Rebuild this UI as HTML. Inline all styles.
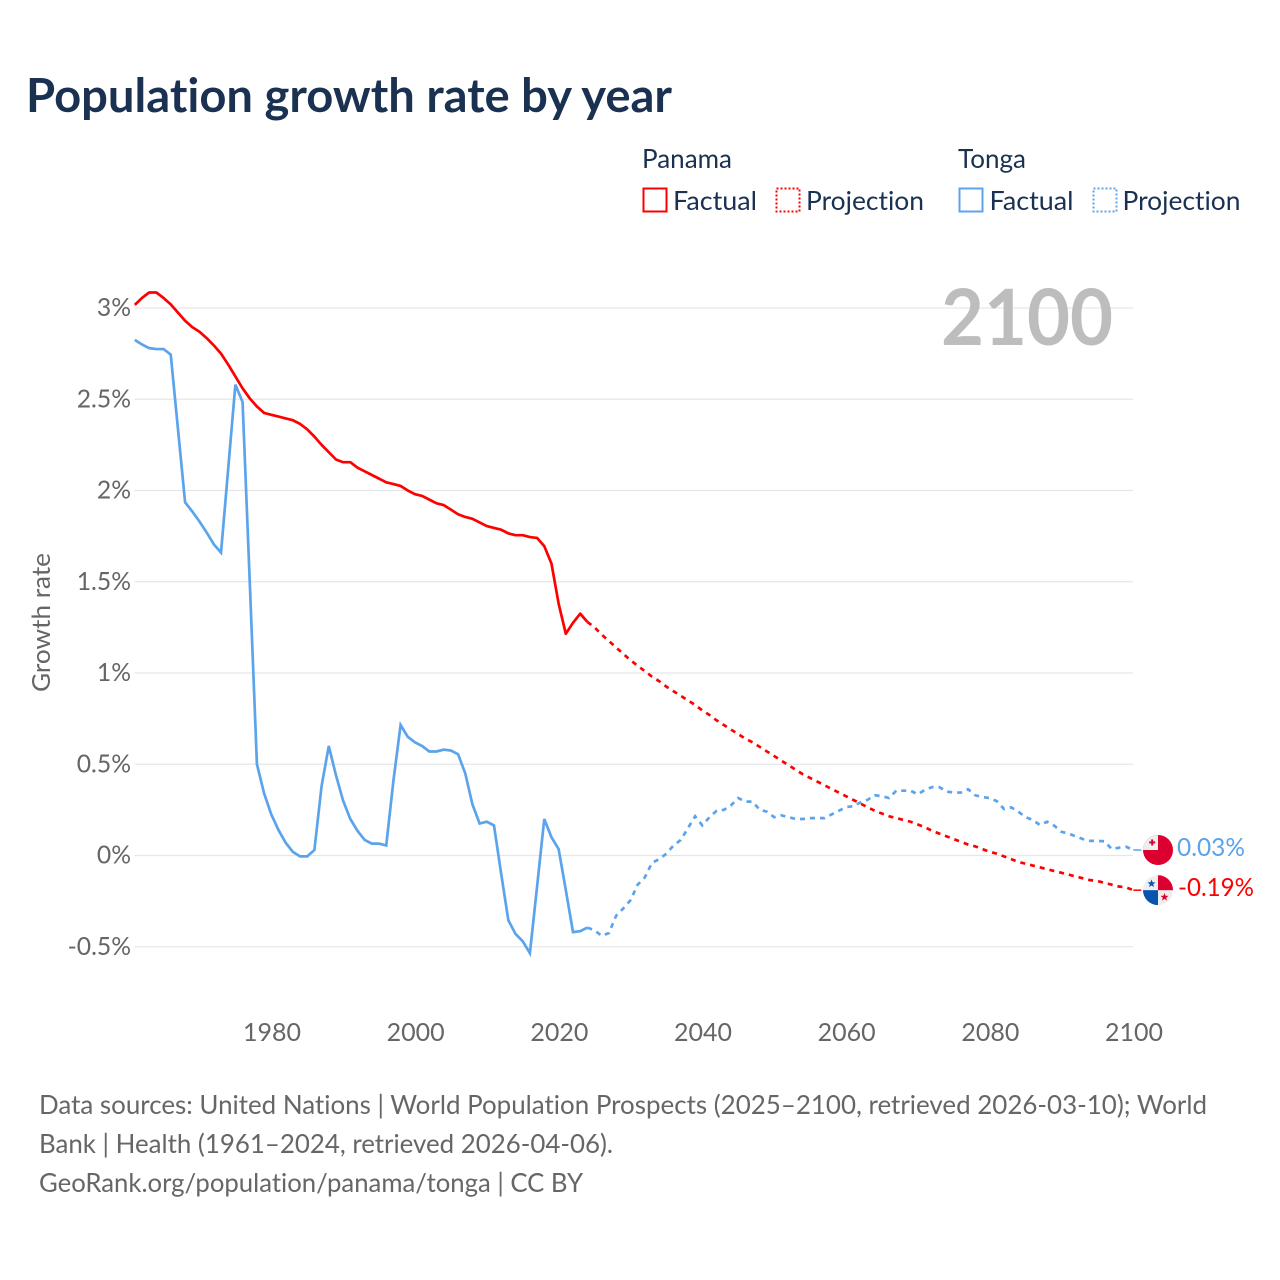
<!DOCTYPE html>
<html lang="en">
<head>
<meta charset="utf-8">
<title>Population growth rate by year</title>
<style>
html,body{margin:0;padding:0;background:#fff;width:1280px;height:1280px;overflow:hidden}
svg{display:block}
text{font-family:"Lato","Carlito","Liberation Sans",sans-serif;font-variant-ligatures:none;font-feature-settings:"liga" 0,"clig" 0}
</style>
</head>
<body>
<svg id="chart" width="1280" height="1280" viewBox="0 0 1280 1280" xmlns="http://www.w3.org/2000/svg">
  <defs>
    <clipPath id="flag-clip-tonga"><circle cx="0" cy="0" r="15"/></clipPath>
    <clipPath id="flag-clip-panama"><circle cx="0" cy="0" r="15"/></clipPath>
  </defs>
  <rect x="0" y="0" width="1280" height="1280" fill="#fff"/>
  <text x="26" y="112" font-size="47" font-weight="700" fill="#1a3152" textLength="646" lengthAdjust="spacingAndGlyphs">Population growth rate by year</text>

  <g font-size="26" fill="#1a3152">
    <text x="642" y="168" textLength="90" lengthAdjust="spacingAndGlyphs">Panama</text>
    <rect x="643.5" y="188.5" width="23" height="23" fill="none" stroke="#ff0000" stroke-width="2"/>
    <text x="673" y="210" textLength="84" lengthAdjust="spacingAndGlyphs">Factual</text>
    <rect x="776.5" y="188.5" width="23" height="23" fill="none" stroke="#ff0000" stroke-width="2" stroke-dasharray="2 2"/>
    <text x="806" y="210" textLength="118" lengthAdjust="spacingAndGlyphs">Projection</text>

    <text x="958" y="168" textLength="68" lengthAdjust="spacingAndGlyphs">Tonga</text>
    <rect x="959.5" y="188.5" width="23" height="23" fill="none" stroke="#5ba4ec" stroke-width="2"/>
    <text x="989.5" y="210" textLength="84" lengthAdjust="spacingAndGlyphs">Factual</text>
    <rect x="1093.5" y="188.5" width="23" height="23" fill="none" stroke="#5ba4ec" stroke-width="2" stroke-dasharray="2 2"/>
    <text x="1122.5" y="210" textLength="118" lengthAdjust="spacingAndGlyphs">Projection</text>
  </g>

  <g id="grid"></g>
  <g id="y-ticks"></g>
  <g id="x-ticks"></g>
  <text transform="translate(50,622.5) rotate(-90)" text-anchor="middle" font-size="25" fill="#666666" textLength="139" lengthAdjust="spacingAndGlyphs">Growth rate</text>
  <text x="1113" y="345" text-anchor="end" font-size="78" font-weight="700" fill="#bdbdbd" textLength="172" lengthAdjust="spacingAndGlyphs">2100</text>
  <g id="series"></g>
  <g id="flags"></g>

  <g font-size="26" fill="#666666">
    <text x="39" y="1114" textLength="1168" lengthAdjust="spacingAndGlyphs">Data sources: United Nations | World Population Prospects (2025–2100, retrieved 2026-03-10); World</text>
    <text x="39" y="1153" textLength="574" lengthAdjust="spacingAndGlyphs">Bank | Health (1961–2024, retrieved 2026-04-06).</text>
    <text x="39" y="1192" textLength="544" lengthAdjust="spacingAndGlyphs">GeoRank.org/population/panama/tonga | CC BY</text>
  </g>
</svg>
<script>
const yTickValues = [3, 2.5, 2, 1.5, 1, 0.5, 0, -0.5];
const yTickLabels = ['3%', '2.5%', '2%', '1.5%', '1%', '0.5%', '0%', '-0.5%'];
const xTickYears = [1980, 2000, 2020, 2040, 2060, 2080, 2100];
const factualStartYear = 1961;
const projectionStartYear = 2024;
const panamaFactual = [3.017,3.055,3.085,3.085,3.055,3.02,2.975,2.93,2.895,2.87,2.835,2.795,2.75,2.69,2.625,2.56,2.505,2.46,2.425,2.415,2.405,2.395,2.385,2.365,2.335,2.295,2.25,2.21,2.17,2.155,2.155,2.125,2.105,2.085,2.065,2.045,2.035,2.025,2.0,1.98,1.97,1.95,1.93,1.92,1.895,1.87,1.855,1.845,1.825,1.805,1.795,1.785,1.765,1.755,1.755,1.745,1.74,1.695,1.6,1.38,1.215,1.275,1.325,1.28];
const panamaProjection = [1.28,1.25,1.21,1.175,1.14,1.105,1.07,1.04,1.01,0.98,0.955,0.925,0.90,0.875,0.85,0.825,0.795,0.77,0.74,0.715,0.69,0.665,0.64,0.62,0.595,0.57,0.545,0.52,0.495,0.47,0.445,0.425,0.405,0.385,0.365,0.345,0.325,0.305,0.285,0.265,0.245,0.23,0.215,0.205,0.195,0.185,0.17,0.155,0.135,0.12,0.105,0.09,0.075,0.06,0.05,0.035,0.02,0.01,-0.005,-0.02,-0.035,-0.045,-0.055,-0.065,-0.075,-0.085,-0.095,-0.105,-0.115,-0.125,-0.135,-0.14,-0.15,-0.16,-0.17,-0.175,-0.19];
const tongaFactual = [2.825,2.80,2.78,2.775,2.775,2.745,2.34,1.935,1.885,1.83,1.77,1.705,1.66,2.12,2.58,2.485,1.5,0.5,0.34,0.225,0.14,0.07,0.02,-0.005,-0.005,0.03,0.38,0.6,0.44,0.3,0.2,0.135,0.085,0.065,0.065,0.055,0.41,0.715,0.65,0.62,0.6,0.57,0.57,0.58,0.575,0.555,0.45,0.28,0.175,0.185,0.165,-0.1,-0.355,-0.43,-0.47,-0.535,-0.17,0.2,0.1,0.035,-0.19,-0.42,-0.415,-0.395];
const tongaProjection = [-0.395,-0.41,-0.44,-0.425,-0.33,-0.29,-0.245,-0.16,-0.12,-0.04,-0.02,0.01,0.055,0.085,0.15,0.215,0.165,0.21,0.245,0.25,0.275,0.315,0.295,0.295,0.25,0.24,0.21,0.22,0.21,0.2,0.2,0.205,0.205,0.205,0.225,0.245,0.265,0.27,0.29,0.305,0.33,0.325,0.315,0.355,0.355,0.355,0.335,0.36,0.375,0.375,0.35,0.345,0.345,0.363,0.33,0.32,0.315,0.298,0.255,0.264,0.24,0.21,0.195,0.167,0.185,0.163,0.13,0.12,0.105,0.09,0.08,0.08,0.078,0.035,0.043,0.048,0.03];

const NS = 'http://www.w3.org/2000/svg';
const xScale = year => 271.3 + (year - 1980) * (1134 - 272) / 120;
const yScale = value => 855.5 - value * 182.5;
const fmt = value => (Math.round(value * 100) / 100) + '%';

function make(parent, tag, attrs, text) {
  const el = document.createElementNS(NS, tag);
  for (const k in attrs) el.setAttribute(k, attrs[k]);
  if (text !== undefined) el.textContent = text;
  parent.appendChild(el);
  return el;
}

const grid = document.getElementById('grid');
const yTicks = document.getElementById('y-ticks');
const xTicks = document.getElementById('x-ticks');
yTickValues.forEach((v, i) => {
  const line = make(grid, 'line', {x1: 134.5, x2: 1133, y1: yScale(v), y2: yScale(v), stroke: '#e6e6e6', 'stroke-width': 1.2});
  
  
  const label = make(yTicks, 'text', {x: 131, y: yScale(v) + 8, 'text-anchor': 'end', 'font-size': 24.7, fill: '#666666'}, yTickLabels[i]);
  
  
});
xTickYears.forEach(year => {
  const label = make(xTicks, 'text', {x: xScale(year) + 0.7, y: 1041, 'text-anchor': 'middle', 'font-size': 25, fill: '#666666'}, String(year));
  
  
});

function linePath(values, startYear) {
  return values.map((v, i) => (i ? 'L' : 'M') + xScale(startYear + i).toFixed(2) + ' ' + yScale(v).toFixed(2)).join(' ');
}
const seriesGroup = document.getElementById('series');

const tongaFactualLine = make(seriesGroup, 'path', {d: linePath(tongaFactual, factualStartYear), fill: 'none', stroke: '#5ba4ec', 'stroke-width': 2.7, 'stroke-linejoin': 'miter'});


const panamaFactualLine = make(seriesGroup, 'path', {d: linePath(panamaFactual, factualStartYear), fill: 'none', stroke: '#ff0000', 'stroke-width': 2.7, 'stroke-linejoin': 'round'});


const tongaProjectionLine = make(seriesGroup, 'path', {d: linePath(tongaProjection, projectionStartYear), fill: 'none', stroke: '#5ba4ec', 'stroke-width': 2.7, 'stroke-dasharray': '5 5'});


const panamaProjectionLine = make(seriesGroup, 'path', {d: linePath(panamaProjection, projectionStartYear), fill: 'none', stroke: '#ff0000', 'stroke-width': 2.7, 'stroke-dasharray': '5 5'});



const flags = document.getElementById('flags');
const lastYear = 2100;
const tongaLast = tongaProjection[tongaProjection.length - 1];
const panamaLast = panamaProjection[panamaProjection.length - 1];

const tongaConnector = make(flags, 'line', {x1: xScale(lastYear), x2: xScale(lastYear) + 8, y1: yScale(tongaLast), y2: yScale(tongaLast), stroke: '#5ba4ec', 'stroke-width': 1.5});


const panamaConnector = make(flags, 'line', {x1: xScale(lastYear), x2: xScale(lastYear) + 8, y1: yScale(panamaLast), y2: yScale(panamaLast), stroke: '#ff0000', 'stroke-width': 1.5});



const tongaFlag = make(flags, 'g', {transform: 'translate(' + (xScale(lastYear) + 24.7) + ',' + yScale(tongaLast) + ')'});


const tongaInner = make(tongaFlag, 'g', {'clip-path': 'url(#flag-clip-tonga)'});
make(tongaInner, 'rect', {x: -15, y: -15, width: 30, height: 30, fill: '#dc0030'});
make(tongaInner, 'rect', {x: -15, y: -15, width: 15, height: 15, fill: '#eeeeee'});
make(tongaInner, 'rect', {x: -8.8, y: -8.6, width: 6, height: 2, fill: '#dc0030'});
make(tongaInner, 'rect', {x: -6.8, y: -10.6, width: 2, height: 6, fill: '#dc0030'});

const panamaFlag = make(flags, 'g', {transform: 'translate(' + (xScale(lastYear) + 24.7) + ',' + yScale(panamaLast) + ')'});


const panamaInner = make(panamaFlag, 'g', {'clip-path': 'url(#flag-clip-panama)'});
make(panamaInner, 'rect', {x: -15, y: -15, width: 30, height: 30, fill: '#eeeeee'});
make(panamaInner, 'rect', {x: 0, y: -15, width: 15, height: 15, fill: '#dc0030'});
make(panamaInner, 'rect', {x: -15, y: 0, width: 15, height: 15, fill: '#0a52b0'});
function starPoints(cx, cy, r) {
  const pts = [];
  for (let i = 0; i < 10; i++) {
    const a = -Math.PI / 2 + i * Math.PI / 5;
    const rr = i % 2 ? r * 0.42 : r;
    pts.push((cx + rr * Math.cos(a)).toFixed(2) + ',' + (cy + rr * Math.sin(a)).toFixed(2));
  }
  return pts.join(' ');
}
make(panamaInner, 'polygon', {points: starPoints(-6.5, -6.5, 4.2), fill: '#0a52b0'});
make(panamaInner, 'polygon', {points: starPoints(6.5, 7, 4.2), fill: '#dc0030'});

const tongaValue = make(flags, 'text', {x: xScale(lastYear) + 43.7, y: yScale(tongaLast) + 6, 'font-size': 25, fill: '#5ba4ec', textLength: 68, lengthAdjust: 'spacingAndGlyphs'}, fmt(tongaLast));


const panamaValue = make(flags, 'text', {x: xScale(lastYear) + 44.7, y: yScale(panamaLast) + 6, 'font-size': 25, fill: '#ff0000', textLength: 76, lengthAdjust: 'spacingAndGlyphs'}, fmt(panamaLast));


</script>
</body>
</html>
